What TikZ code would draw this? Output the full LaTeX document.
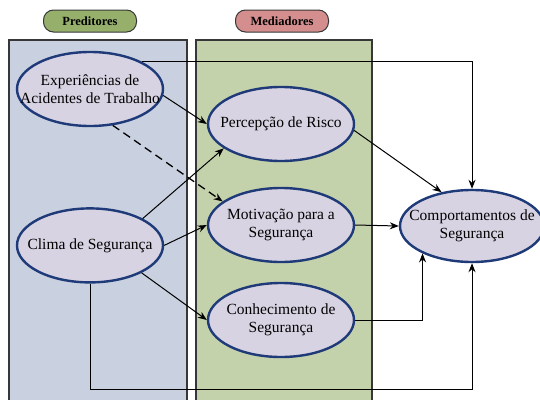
\documentclass[tikz,border=0pt]{standalone}
\usepackage{fontspec}
\setmainfont{Liberation Serif}
\usetikzlibrary{arrows.meta,positioning,calc,shapes.geometric}

\definecolor{predfill}{RGB}{201,208,224}
\definecolor{medfill}{RGB}{196,210,172}
\definecolor{predtag}{RGB}{150,176,108}
\definecolor{medtag}{RGB}{212,142,142}
\definecolor{ovalline}{RGB}{30,58,120}
\definecolor{ovalfill}{RGB}{216,211,226}
\definecolor{panelline}{RGB}{55,55,55}

\newcommand{\ovtext}[1]{\makebox[0pt]{#1}}

\begin{document}
\begin{tikzpicture}[
  x=1pt, y=-1pt,
  font=\fontsize{15.5}{18}\selectfont,
  >=Stealth,
  node distance=20pt,
  oval/.style={draw=ovalline, line width=2.4pt, fill=ovalfill, ellipse, minimum width=146pt, minimum height=74pt, inner sep=0pt, align=center},
  tag/.style={draw=panelline, line width=1pt, rounded corners=10pt, minimum width=93pt, minimum height=22pt, inner sep=0pt, font=\fontsize{12.5}{14}\selectfont\bfseries},
  panel/.style={draw=panelline, line width=1.3pt},
  arrow/.style={-{Stealth[length=9pt,width=7pt]}, line width=1pt},
  dasharrow/.style={arrow, dashed, dash pattern=on 8pt off 5pt, line width=1.3pt}
]
\useasboundingbox (0,0) rectangle (540,399);

% ----- PANELS -----
\fill[white] (0,0) rectangle (540,399);
\filldraw[panel, fill=predfill] (9,402) -- (9,40) -- (187,40) -- (187,402);
\filldraw[panel, fill=medfill] (196,402) -- (196,40) -- (372,40) -- (372,402);

% ----- HEADERS -----
\node[tag, fill=predtag] (tpred) at (90,21) {Preditores};
\node[tag, fill=medtag] (tmed) at (282,21) {Mediadores};

% ----- PREDICTORS -----
\node[oval] (acid) at (90,89) {\ovtext{Experiências de}\\\ovtext{Acidentes de Trabalho}};
\node[oval, below=80pt of acid] (clima) {\ovtext{Clima de Segurança}};

% ----- MEDIATORS -----
\node[oval] (risco) at (281,124) {\ovtext{Percepção de Risco}};
\node[oval] (motiv) at (281,225) {\ovtext{Motivação para a}\\\ovtext{Segurança}};
\node[oval] (conhec) at (281,320) {\ovtext{Conhecimento de}\\\ovtext{Segurança}};

% ----- OUTCOME -----
\node[oval, minimum width=144pt, minimum height=72pt] (comp) at (472,226) {\ovtext{Comportamentos de}\\\ovtext{Segurança}};

% ----- PATHS -----
\draw[arrow] (acid.28) -- (acid.28 -| comp.north) -- (comp.north);
\draw[arrow] (acid.-5) -- (risco.west);
\draw[dasharrow] (acid.-58) -- (motiv.158);
\draw[arrow] (clima.27) -- (risco.203);
\draw[arrow] (clima.east) -- (motiv.west);
\draw[arrow] (clima.-28) -- (conhec.west);
\draw[arrow] (clima.south) |- ($(comp.south)+(0,126)$) -- (comp.south);
\draw[arrow] (risco.-5) -- (comp.132);
\draw[arrow] (motiv.east) -- (comp.west);
\draw[arrow] (conhec.east) -| (comp.209);

\end{tikzpicture}
\end{document}
